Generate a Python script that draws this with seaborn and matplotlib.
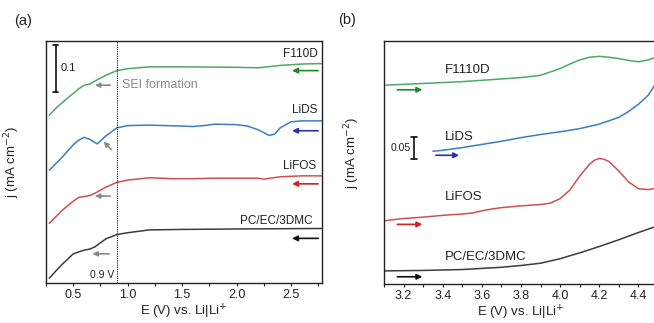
import matplotlib
matplotlib.use("Agg")
import matplotlib.pyplot as plt
import seaborn as sns
import numpy as np

# ---------------- data: panel (a) ----------------
a_green_x = [0.28, 0.35, 0.45, 0.55, 0.6, 0.65, 0.7, 0.75, 0.8, 0.9, 1.0, 1.1, 1.2, 1.5, 2.0, 2.2, 2.4, 2.6, 2.78]
a_green_y = [0.357, 0.374, 0.394, 0.413, 0.421, 0.423, 0.430, 0.436, 0.442, 0.452, 0.456, 0.458, 0.460, 0.460, 0.459, 0.458, 0.463, 0.466, 0.467]

a_blue_x = [0.28, 0.4, 0.5, 0.55, 0.6, 0.65, 0.72, 0.8, 0.9, 1.0, 1.2, 1.5, 1.6, 1.7, 1.8, 2.0, 2.1, 2.2, 2.3, 2.35, 2.4, 2.5, 2.6, 2.78]
a_blue_y = [0.240, 0.268, 0.294, 0.304, 0.310, 0.306, 0.296, 0.313, 0.330, 0.335, 0.336, 0.334, 0.333, 0.335, 0.338, 0.337, 0.334, 0.326, 0.314, 0.317, 0.330, 0.343, 0.345, 0.345]

a_red_x = [0.28, 0.4, 0.5, 0.55, 0.6, 0.65, 0.7, 0.8, 0.9, 1.0, 1.2, 1.4, 1.6, 1.8, 2.0, 2.2, 2.25, 2.4, 2.6, 2.78]
a_red_y = [0.127, 0.155, 0.174, 0.182, 0.184, 0.186, 0.191, 0.204, 0.214, 0.219, 0.224, 0.222, 0.222, 0.223, 0.223, 0.223, 0.221, 0.226, 0.228, 0.228]

a_black_x = [0.28, 0.35, 0.4, 0.5, 0.6, 0.65, 0.7, 0.8, 0.9, 1.0, 1.2, 1.5, 2.0, 2.78]
a_black_y = [0.010, 0.028, 0.040, 0.062, 0.070, 0.072, 0.077, 0.094, 0.103, 0.107, 0.113, 0.114, 0.115, 0.116]

# ---------------- data: panel (b) ----------------
b_green_x = [3.1, 3.3, 3.5, 3.7, 3.8, 3.9, 4.0, 4.05, 4.1, 4.15, 4.2, 4.25, 4.3, 4.35, 4.4, 4.45, 4.5]
b_green_y = [0.440, 0.444, 0.448, 0.454, 0.457, 0.462, 0.477, 0.487, 0.496, 0.502, 0.504, 0.502, 0.499, 0.495, 0.492, 0.496, 0.504]

b_blue_x = [3.35, 3.4, 3.5, 3.6, 3.7, 3.8, 3.9, 4.0, 4.1, 4.2, 4.3, 4.35, 4.4, 4.45, 4.5]
b_blue_y = [0.294, 0.296, 0.302, 0.309, 0.316, 0.324, 0.331, 0.337, 0.344, 0.354, 0.369, 0.382, 0.398, 0.418, 0.451]

b_red_x = [3.1, 3.2, 3.3, 3.4, 3.5, 3.55, 3.6, 3.65, 3.7, 3.8, 3.9, 3.95, 4.0, 4.05, 4.1, 4.15, 4.175, 4.2, 4.225, 4.25, 4.3, 4.35, 4.4, 4.45, 4.5]
b_red_y = [0.140, 0.145, 0.148, 0.152, 0.155, 0.157, 0.162, 0.166, 0.169, 0.173, 0.176, 0.179, 0.189, 0.208, 0.239, 0.265, 0.274, 0.278, 0.276, 0.271, 0.250, 0.226, 0.211, 0.209, 0.213]

b_black_x = [3.1, 3.3, 3.5, 3.7, 3.8, 3.9, 4.0, 4.1, 4.2, 4.3, 4.4, 4.5]
b_black_y = [0.029, 0.030, 0.032, 0.037, 0.041, 0.046, 0.056, 0.069, 0.083, 0.098, 0.114, 0.129]

a_labels = ["F110D", "LiDS", "LiFOS", "PC/EC/3DMC"]
b_labels = ["F1110D", "LiDS", "LiFOS", "PC/EC/3DMC"]
line_colors = ["#4ea866", "#3b7dc0", "#cf5052", "#3c3c3c"]
arrow_colors = ["#1f8a2c", "#2335b5", "#cc2222", "#111111"]
a_xticks = [0.5, 1.0, 1.5, 2.0, 2.5]
b_xticks = [3.2, 3.4, 3.6, 3.8, 4.0, 4.2, 4.4]

sns.set_theme(style="ticks")
plt.rcParams["font.family"] = ["Liberation Sans", "DejaVu Sans"]
plt.rcParams["axes.linewidth"] = 1.0

fig = plt.figure(figsize=(6.54, 3.23), dpi=100)
axa = fig.add_axes([46/654, 40/323, 276/654, 242/323])
axb = fig.add_axes([384/654, 39/323, 274/654, 243/323])

gray = "#8a8a8a"

def style_axis(ax, xticks, minor):
    ax.set_xticks(xticks)
    ax.set_xticks(minor, minor=True)
    ax.set_yticks([])
    ax.tick_params(axis="x", which="both", direction="out", length=2.5, width=0.8,
                   labelsize=9, pad=2, colors="#222222")
    for s in ax.spines.values():
        s.set_visible(True)
        s.set_color("#222222")
        s.set_linewidth(1.0)
    ax.set_xlabel("E (V) vs. Li|Li$^{+}$", fontsize=9.5, labelpad=1, color="#222222")
    ax.set_ylabel("j (mA cm$^{-2}$)", fontsize=9.5, color="#222222")

# ---------- panel (a) ----------
series_a = [(a_green_x, a_green_y), (a_blue_x, a_blue_y), (a_red_x, a_red_y), (a_black_x, a_black_y)]
for (xs, ys), c in zip(series_a, line_colors):
    sns.lineplot(x=xs, y=ys, ax=axa, color=c, lw=1.1, sort=False)
axa.set_xlim(0.275, 2.785)
axa.set_ylim(0, 0.515)
style_axis(axa, a_xticks, np.arange(0.25, 2.8, 0.25))
axa.yaxis.set_label_coords(-0.087, 0.5)

axa.axvline(0.9, color="#111111", lw=0.8, ls=(0, (1, 1)))

a_arrow_y = [0.452, 0.324, 0.211, 0.095]
a_label_y = [0.487, 0.368, 0.249, 0.132]
a_label_x = [2.745, 2.745, 2.735, 2.70]
for lab, yy, ly, lx, ac in zip(a_labels, a_arrow_y, a_label_y, a_label_x, arrow_colors):
    axa.annotate("", xy=(2.51, yy), xytext=(2.75, yy),
                 arrowprops=dict(arrowstyle="-|>", color=ac, lw=1.2, mutation_scale=8, shrinkA=0, shrinkB=0))
    axa.text(lx, ly, lab, ha="right", va="center", fontsize=8.5, color="#222222")

# gray SEI arrows
for (x0, x1, yy) in [(0.84, 0.70, 0.421), (0.84, 0.70, 0.185), (0.83, 0.676, 0.062)]:
    axa.annotate("", xy=(x1, yy), xytext=(x0, yy),
                 arrowprops=dict(arrowstyle="-|>", color=gray, lw=1.2, mutation_scale=7, shrinkA=0, shrinkB=0))
axa.annotate("", xy=(0.78, 0.301), xytext=(0.848, 0.284),
             arrowprops=dict(arrowstyle="-|>", color=gray, lw=1.2, mutation_scale=7, shrinkA=0, shrinkB=0))
axa.text(0.948, 0.421, "SEI formation", ha="left", va="center", fontsize=9, color=gray)
axa.text(0.876, 0.018, "0.9 V", ha="right", va="center", fontsize=7.5, color="#222222")

# scale bar (a)
axa.plot([0.339, 0.339], [0.406, 0.506], color="#111111", lw=1.2)
axa.plot([0.315, 0.363], [0.506, 0.506], color="#111111", lw=1.2)
axa.plot([0.315, 0.363], [0.406, 0.406], color="#111111", lw=1.2)
axa.text(0.384, 0.457, "0.1", ha="left", va="center", fontsize=8, color="#222222")

# ---------- panel (b) ----------
series_b = [(b_green_x, b_green_y), (b_blue_x, b_blue_y), (b_red_x, b_red_y), (b_black_x, b_black_y)]
for (xs, ys), c in zip(series_b, line_colors):
    sns.lineplot(x=xs, y=ys, ax=axb, color=c, lw=1.1, sort=False)
axb.set_xlim(3.1, 4.5)
axb.set_ylim(0, 0.538)
style_axis(axb, b_xticks, np.arange(3.1, 4.51, 0.1))
axb.yaxis.set_label_coords(-0.080, 0.54)

b_arrow = [(3.168, 3.296, 0.430), (3.365, 3.484, 0.285), (3.168, 3.296, 0.132), (3.168, 3.296, 0.016)]
b_label_y = [0.473, 0.326, 0.193, 0.060]
for lab, (x0, x1, yy), ly, ac in zip(b_labels, b_arrow, b_label_y, arrow_colors):
    axb.annotate("", xy=(x1, yy), xytext=(x0, yy),
                 arrowprops=dict(arrowstyle="-|>", color=ac, lw=1.2, mutation_scale=8, shrinkA=0, shrinkB=0))
    axb.text(3.413, ly, lab, ha="left", va="center", fontsize=9.5, color="#222222")

# scale bar (b)
axb.plot([3.255, 3.255], [0.276, 0.326], color="#111111", lw=1.2)
axb.plot([3.24, 3.27], [0.326, 0.326], color="#111111", lw=1.2)
axb.plot([3.24, 3.27], [0.276, 0.276], color="#111111", lw=1.2)
axb.text(3.237, 0.301, "0.05", ha="right", va="center", fontsize=7.5, color="#222222")

fig.text(14/654, 1 - 21/323, "(a)", ha="left", va="center", fontsize=10.5, color="#222222")
fig.text(338/654, 1 - 20/323, "(b)", ha="left", va="center", fontsize=10.5, color="#222222")

fig.savefig("out.png", dpi=100)
